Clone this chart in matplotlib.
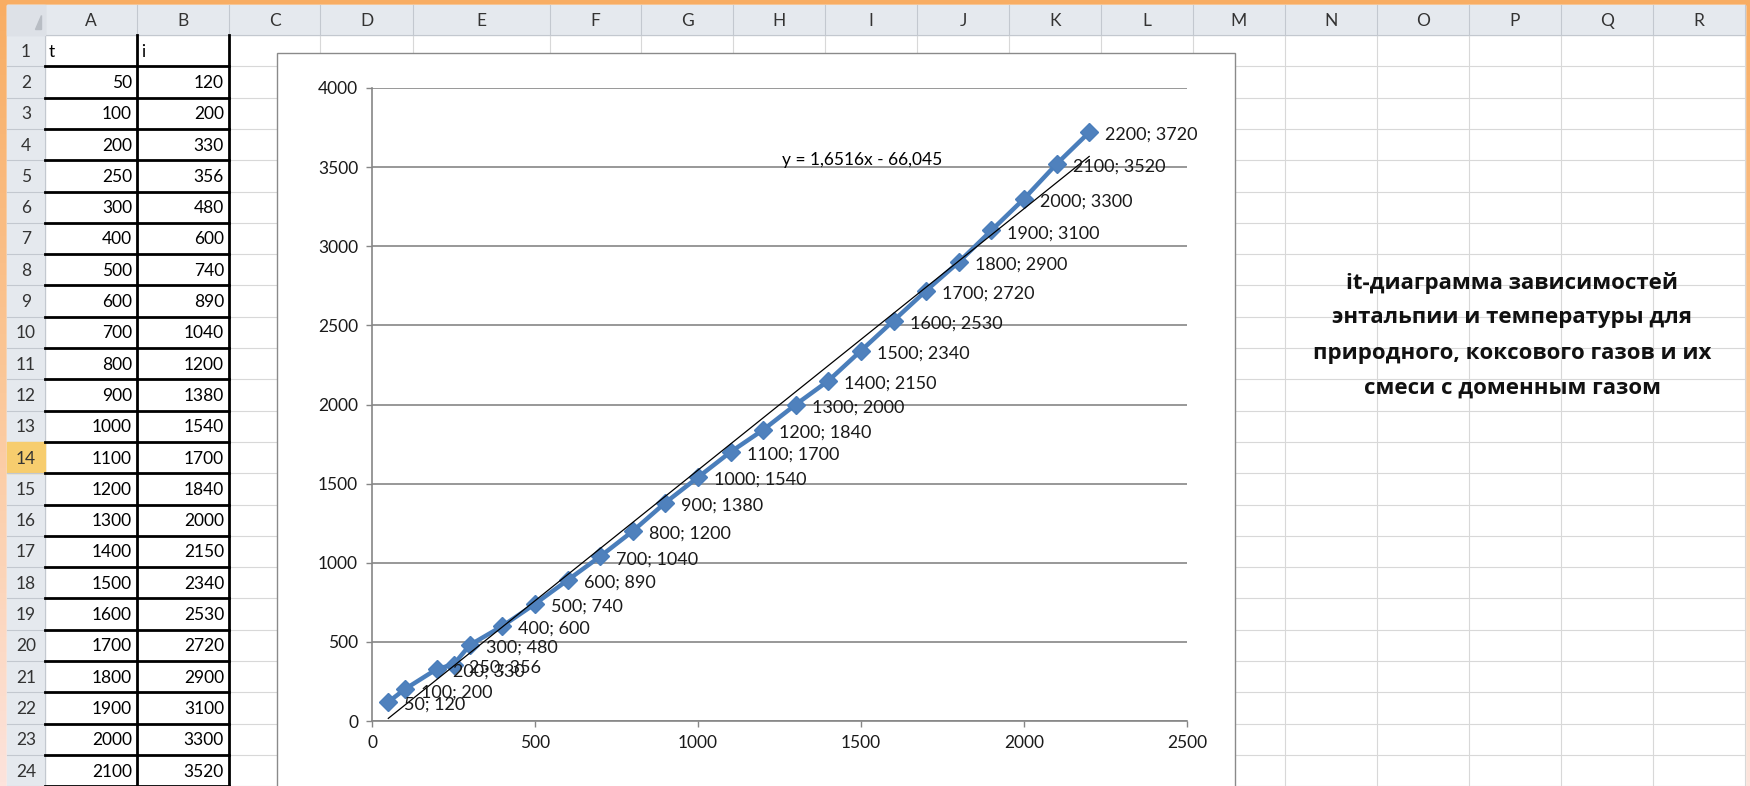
import matplotlib
matplotlib.use("Agg")
import matplotlib.pyplot as plt
import numpy as np
from matplotlib.patches import Rectangle
from matplotlib.colors import LinearSegmentedColormap

# data (columns A and B of the sheet)
t = [50, 100, 200, 250, 300, 400, 500, 600, 700, 800, 900, 1000,
     1100, 1200, 1300, 1400, 1500, 1600, 1700, 1800, 1900, 2000, 2100, 2200]
i_vals = [120, 200, 330, 356, 480, 600, 740, 890, 1040, 1200, 1380, 1540,
          1700, 1840, 2000, 2150, 2340, 2530, 2720, 2900, 3100, 3300, 3520, 3720]
col_names = list("ABCDEFGHIJKLMNOPQR")
slope, intercept = 1.6516, -66.045
equation = "y = 1,6516x - 66,045"
title_lines = [
    "it-диаграмма зависимостей",
    "энтальпии и температуры для",
    "природного, коксового газов и их",
    "смеси с доменным газом",
]

W, H = 1750, 786
FONT = ["Lato", "Open Sans", "DejaVu Sans"]
plt.rcParams["font.family"] = FONT

fig = plt.figure(figsize=(W / 100, H / 100), dpi=100)
bg = fig.add_axes([0, 0, 1, 1])
bg.set_xlim(0, W)
bg.set_ylim(H, 0)
bg.axis("off")

# orange frame round the screenshot
cmap = LinearSegmentedColormap.from_list("frame", ["#f8ad63", "#fbc89a", "#fde3dc"])
bg.imshow(np.linspace(0, 1, 200).reshape(-1, 1), extent=(0, W, H, 0),
          aspect="auto", cmap=cmap, zorder=0)

# sheet
left, top, right = 7, 5, 1745
hdr_h, row_h, rh_w = 30, 31.3, 38
row_top = top + hdr_h
bg.add_patch(Rectangle((left, top), right - left, H - top, color="white", zorder=1))

col_edges = [45, 137, 229, 320, 413, 550, 641, 733, 825, 917, 1009, 1101,
             1193, 1285, 1377, 1469, 1561, 1653, 1745]

grid_c = "#d8d8d8"
n_rows = 25
for k in range(n_rows + 1):
    y = row_top + k * row_h
    bg.plot([left + rh_w, right], [y, y], color=grid_c, lw=0.8, zorder=2)
for x in col_edges:
    bg.plot([x, x], [row_top, H], color=grid_c, lw=0.8, zorder=2)

# headers
hdr_c = "#e5e9ee"
bg.add_patch(Rectangle((left, top), right - left, hdr_h, color=hdr_c, zorder=3))
bg.add_patch(Rectangle((left, row_top), rh_w, H - row_top, color=hdr_c, zorder=3))
sep_c = "#c3c8cf"
for x in col_edges:
    bg.plot([x, x], [top, row_top], color=sep_c, lw=0.8, zorder=4)
bg.plot([left, right], [row_top, row_top], color=sep_c, lw=0.8, zorder=4)
bg.plot([left + rh_w, left + rh_w], [top, H], color=sep_c, lw=0.8, zorder=4)
bg.add_patch(Rectangle((left, top), rh_w, hdr_h, color="#dde1e7", zorder=4))
bg.fill([left + 28, left + 34, left + 34], [top + 24, top + 24, top + 10],
        color="#b8bdc4", zorder=5)

for name, x0, x1 in zip(col_names, col_edges[:-1], col_edges[1:]):
    bg.text((x0 + x1) / 2, top + hdr_h / 2 + 1, name, ha="center", va="center",
            fontsize=12.5, color="#333333", zorder=5)

for k in range(1, n_rows + 1):
    y0 = row_top + (k - 1) * row_h
    if y0 + row_h / 2 > H - 8:
        break
    if k == 14:
        bg.add_patch(Rectangle((left, y0), rh_w, row_h, color="#f7cd6e", zorder=4))
    bg.plot([left, left + rh_w], [y0 + row_h, y0 + row_h], color=sep_c, lw=0.8, zorder=4)
    bg.text(left + rh_w / 2, y0 + row_h / 2 + 1, str(k), ha="center", va="center",
            fontsize=12.5, color="#333333", zorder=5)

# cell contents
xa0, xa1, xb1 = col_edges[0], col_edges[1], col_edges[2]
bg.text(xa0 + 4, row_top + row_h / 2 + 1, "t", ha="left", va="center", fontsize=12.5, zorder=5)
bg.text(xa1 + 4, row_top + row_h / 2 + 1, "i", ha="left", va="center", fontsize=12.5, zorder=5)
for k, (tv, iv) in enumerate(zip(t, i_vals)):
    yc = row_top + (k + 1.5) * row_h + 1
    if yc > H - 8:
        break
    bg.text(xa1 - 5, yc, str(tv), ha="right", va="center", fontsize=12.5, zorder=5)
    bg.text(xb1 - 5, yc, str(iv), ha="right", va="center", fontsize=12.5, zorder=5)

# thick cell borders
for k in range(1, n_rows):
    y = row_top + k * row_h
    bg.plot([xa0, xb1], [y, y], color="black", lw=2.0, zorder=6)
for x in (xa1, xb1):
    bg.plot([x, x], [row_top, H], color="black", lw=2.0, zorder=6)

# chart area
bg.add_patch(Rectangle((277, 53), 1235 - 277, H, facecolor="white",
                       edgecolor="#8a8a8a", lw=1.0, zorder=7))

# title text beside the chart
for n, line in enumerate(title_lines):
    bg.text(1512, 283 + n * 35, line, ha="center", va="center", fontsize=16,
            fontweight="bold", family=["Open Sans", "DejaVu Sans"], color="#111111", zorder=8)

# plot area
px0, px1, py0, py1 = 372, 1187, 88, 721
ax = fig.add_axes([px0 / W, (H - py1) / H, (px1 - px0) / W, (py1 - py0) / H])
ax.set_facecolor("none")
ax.set_xlim(0, 2500)
ax.set_ylim(0, 4000)
ax.set_xticks(range(0, 2501, 500))
ax.set_yticks(range(0, 4001, 500))
for s in ("top", "right"):
    ax.spines[s].set_visible(False)
for s in ("left", "bottom"):
    ax.spines[s].set_color("#868686")
    ax.spines[s].set_linewidth(1.2)
ax.tick_params(direction="out", length=4, width=1, color="#868686",
               labelsize=12.5, labelcolor="#1a1a1a", pad=6)
ax.yaxis.grid(True, color="#868686", lw=1.2)
ax.set_axisbelow(True)

ax.plot(t, i_vals, color="#4a7ebb", lw=3.2, marker="D", ms=9.5,
        mfc="#4f81bd", mec="#4a7ebb", zorder=3)
tx = np.array([t[0], t[-1]])
ax.plot(tx, slope * tx + intercept, color="black", lw=0.9, zorder=4)
ax.text(1258, 3545, equation, ha="left", va="center", fontsize=12.5, zorder=5)

for x, y in zip(t, i_vals):
    ax.annotate(f"{x}; {y}", (x, y), xytext=(11.5, -2), textcoords="offset points",
                ha="left", va="center", fontsize=13, color="#1a1a1a",
                annotation_clip=False, zorder=6)

fig.savefig("out.png", dpi=100)
